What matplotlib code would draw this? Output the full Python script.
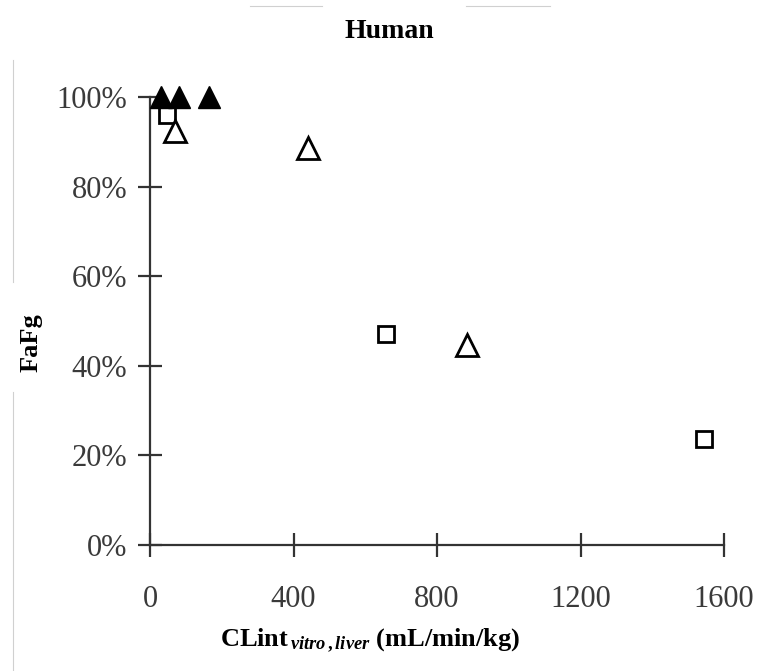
import matplotlib
matplotlib.use('Agg')
import matplotlib.pyplot as plt
from matplotlib.lines import Line2D
from matplotlib.ticker import FuncFormatter

plt.rcParams['font.family'] = ['Liberation Serif', 'DejaVu Serif']
plt.rcParams['mathtext.fontset'] = 'custom'
plt.rcParams['mathtext.rm'] = 'Liberation Serif:bold'
plt.rcParams['mathtext.it'] = 'Liberation Serif:italic:bold'

# FaFg against in vitro liver CLint, three compound groups
filled_tri_x = [30, 80, 165]
filled_tri_y = [100, 100, 100]
open_sq_x = [47, 657, 1543]
open_sq_y = [96, 47, 23.7]
open_tri_x = [70, 440, 883]
open_tri_y = [92.5, 88.7, 44.7]

x_ticks = [0, 400, 800, 1200, 1600]
y_ticks = [0, 20, 40, 60, 80, 100]

ink = '#333333'

fig = plt.figure(figsize=(7.64, 6.71), dpi=100)
ax = fig.add_axes([150 / 764, 126 / 671, 574 / 764, 448 / 671])

ax.plot(open_sq_x, open_sq_y, 's', ms=11, mfc='white', mec='black', mew=2, ls='none', clip_on=False, zorder=3)
ax.plot(open_tri_x, open_tri_y, '^', ms=16, mfc='white', mec='black', mew=2, ls='none', clip_on=False, zorder=3)
ax.plot(filled_tri_x, filled_tri_y, '^', ms=16, mfc='black', mec='black', mew=1, ls='none', clip_on=False, zorder=4)

ax.set_xlim(0, 1600)
ax.set_ylim(0, 100)
ax.set_xticks(x_ticks)
ax.set_yticks(y_ticks)
ax.yaxis.set_major_formatter(FuncFormatter(lambda v, p: '%d%%' % v))

for side in ['top', 'right']:
    ax.spines[side].set_visible(False)
for side in ['left', 'bottom']:
    ax.spines[side].set_color(ink)
    ax.spines[side].set_linewidth(1.6)

ax.tick_params(axis='both', direction='inout', length=17, width=1.6, color=ink,
               labelsize=22, labelcolor='#3a3a3a')
ax.tick_params(axis='y', pad=8)
ax.tick_params(axis='x', pad=20)

fig.text(389 / 764, 1 - 32 / 671, 'Human', ha='center', va='center',
         fontsize=20, fontweight='bold')
fig.text(31 / 764, 1 - 343 / 671, 'FaFg', rotation=90, ha='center', va='center',
         fontsize=19, fontweight='bold')
fig.text(370 / 764, 1 - 641 / 671, r'CLint$_{\,\mathit{vitro\,,liver}}$ (mL/min/kg)',
         ha='center', va='center', fontsize=19, fontweight='bold')

# faint frame lines at the page edges
fig.add_artist(Line2D([13 / 764, 13 / 764], [1 - 60 / 671, 1 - 282 / 671], color='#d0d0d0', lw=0.8))
fig.add_artist(Line2D([13 / 764, 13 / 764], [1 - 392 / 671, 0], color='#d0d0d0', lw=0.8))
fig.add_artist(Line2D([250 / 764, 322 / 764], [1 - 6 / 671, 1 - 6 / 671], color='#d0d0d0', lw=0.8))
fig.add_artist(Line2D([466 / 764, 550 / 764], [1 - 6 / 671, 1 - 6 / 671], color='#d0d0d0', lw=0.8))

fig.savefig('out.png', dpi=100)
